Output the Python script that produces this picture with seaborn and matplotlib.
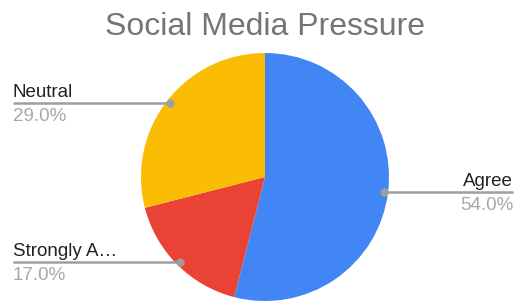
import numpy as np
import seaborn as sns
import matplotlib.pyplot as plt

labels = ["Agree", "Strongly Agree", "Neutral"]
short_labels = ["Agree", "Strongly A\u2026", "Neutral"]
shares = [54.0, 17.0, 29.0]
colors = ["#4285F4", "#EA4335", "#FBBC04"]

sns.set_theme(style="white")
plt.rcParams['font.family'] = ['Liberation Sans', 'DejaVu Sans']

fig = plt.figure(figsize=(5.19, 3.05), dpi=100)
ax = fig.add_axes([0, 0, 1, 1])
ax.set_xlim(0, 519)
ax.set_ylim(0, 305)
ax.axis("off")

cx, cy, r = 265, 128, 124
wedges, _ = ax.pie(shares, colors=colors, startangle=90, counterclock=False,
                   center=(cx, cy), radius=r, wedgeprops=dict(linewidth=0))
ax.set_xlim(0, 519)
ax.set_ylim(0, 305)

# labels with leader lines
for w, name, val in zip(wedges, short_labels, shares):
    ang = np.deg2rad((w.theta1 + w.theta2) / 2)
    dx, dy = cx + 0.97 * r * np.cos(ang), cy + 0.97 * r * np.sin(ang)
    if np.cos(ang) > 0:
        tx, ha = 513, "right"
    else:
        tx, ha = 13, "left"
    ax.plot([dx, tx], [dy, dy], color="#9e9e9e", lw=1.8, solid_capstyle="butt", zorder=3)
    ax.plot(dx, dy, "o", color="#9e9e9e", ms=5, zorder=4)
    ax.text(tx, dy + 6, name, ha=ha, va="baseline", fontsize=13.5, color="#222222")
    ax.text(tx, dy - 5, f"{val:.1f}%", ha=ha, va="top", fontsize=13.5, color="#a8a8a8")

ax.text(265, 270, "Social Media Pressure", ha="center", va="baseline",
        fontsize=23, color="#757575")

fig.savefig("out.png", dpi=100)
